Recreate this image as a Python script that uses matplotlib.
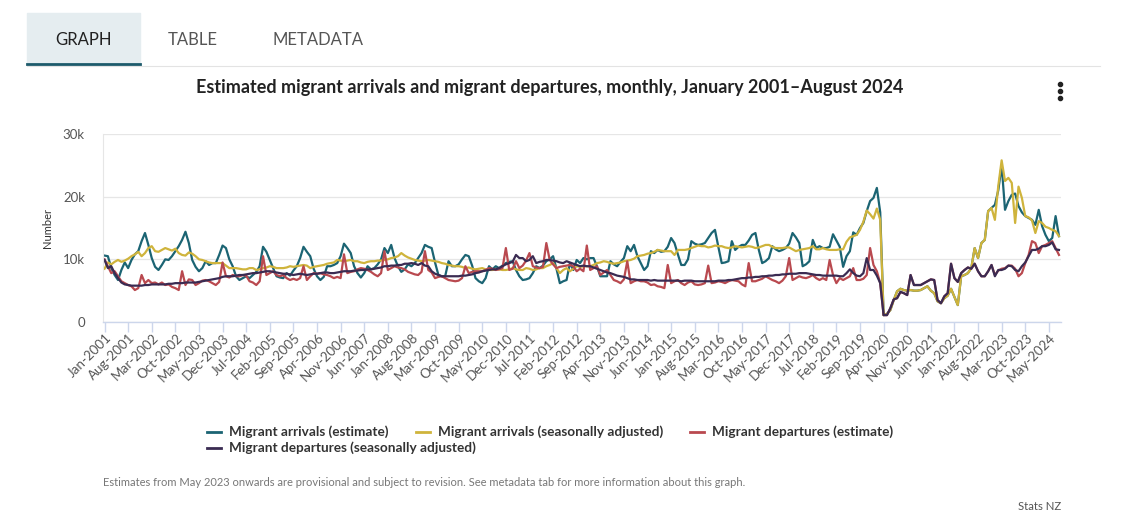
import matplotlib
matplotlib.use("Agg")
import matplotlib.pyplot as plt
import matplotlib.transforms as mtransforms
from matplotlib.lines import Line2D
from matplotlib.patches import Rectangle
import numpy as np
import pandas as pd

plt.rcParams['font.family'] = ['Lato', 'DejaVu Sans']

# monthly values, thousands, Jan 2001 - Aug 2024 (one row per year)
arrivals_est = [
    10.6, 10.5, 8.6, 7.5, 6.7, 8.3, 9.5, 8.6, 9.9, 10.8, 11.3, 12.9,
    14.2, 12.3, 10.2, 8.8, 8.3, 9.1, 10.0, 9.9, 10.5, 11.3, 12.1, 13.1,
    14.4, 12.6, 9.9, 8.8, 8.1, 8.6, 9.7, 9.1, 9.4, 9.4, 10.7, 12.2,
    11.8, 10.0, 8.9, 7.3, 6.7, 7.0, 7.3, 7.0, 7.5, 8.0, 8.9, 12.0,
    11.2, 9.9, 8.6, 7.3, 7.1, 7.0, 7.8, 7.4, 8.2, 8.9, 10.2, 12.0,
    11.2, 10.5, 8.5, 7.3, 6.7, 7.2, 8.9, 8.9, 9.1, 9.4, 10.5, 12.5,
    11.8, 11.0, 8.9, 7.8, 7.1, 7.8, 8.9, 8.4, 8.6, 9.2, 10.0, 11.8,
    11.0, 12.3, 10.2, 8.9, 8.0, 8.4, 9.2, 8.9, 9.4, 10.2, 11.0, 12.3,
    12.0, 11.8, 9.5, 7.5, 7.3, 7.3, 9.7, 8.9, 8.9, 9.2, 10.0, 10.7,
    10.5, 9.0, 7.0, 6.5, 6.2, 7.0, 8.9, 8.4, 8.9, 8.6, 9.0, 9.4,
    9.6, 9.7, 8.3, 7.3, 6.7, 6.8, 7.0, 7.8, 8.9, 8.6, 9.0, 9.7,
    10.0, 10.5, 8.5, 6.2, 6.5, 6.7, 9.4, 8.3, 9.9, 9.4, 10.2, 10.0,
    10.2, 10.2, 8.9, 7.3, 7.3, 7.3, 9.7, 9.2, 8.9, 9.6, 10.2, 12.1,
    11.3, 12.3, 10.5, 9.4, 8.3, 8.9, 11.3, 11.0, 11.5, 11.2, 11.3, 12.0,
    13.4, 12.6, 10.8, 9.1, 9.1, 10.0, 12.9, 12.5, 12.3, 12.4, 12.6, 13.4,
    14.2, 14.7, 12.0, 9.4, 9.5, 9.7, 12.9, 11.5, 12.0, 12.3, 12.3, 13.0,
    13.9, 14.2, 11.5, 9.4, 9.7, 10.2, 12.1, 11.6, 11.3, 11.5, 11.8, 12.5,
    14.2, 13.5, 12.6, 8.9, 9.2, 9.7, 13.1, 11.8, 12.1, 11.8, 11.8, 12.0,
    14.0, 13.0, 12.0, 8.8, 10.5, 11.3, 14.3, 13.9, 15.0, 15.8, 17.7, 19.3,
    19.8, 21.4, 17.5, 1.1, 1.3, 1.9, 3.5, 4.9, 5.3, 5.1, 5.0, 5.1,
    5.0, 5.0, 5.1, 5.4, 5.7, 5.0, 4.6, 3.3, 3.0, 3.8, 4.2, 5.3,
    4.0, 2.7, 7.3, 7.5, 7.8, 8.6, 11.8, 10.2, 12.6, 13.1, 17.7, 18.2,
    18.7, 21.0, 25.0, 17.9, 19.3, 20.3, 20.5, 18.5, 17.5, 16.9, 16.6, 16.3,
    15.5, 17.9, 15.3, 13.9, 12.9, 13.4, 16.9, 13.7,
]

arrivals_sa = [
    8.5, 9.5, 9.2, 9.6, 9.9, 9.6, 9.8, 10.1, 10.5, 10.8, 11.2, 10.5,
    11.0, 11.8, 12.1, 11.3, 11.2, 11.5, 11.8, 11.6, 11.4, 11.7, 11.0, 10.7,
    10.6, 11.1, 10.9, 10.5, 10.0, 9.9, 9.7, 9.5, 9.4, 9.4, 9.4, 9.4,
    9.0, 8.6, 8.6, 8.6, 8.5, 8.4, 8.4, 8.6, 8.6, 8.3, 8.4, 8.6,
    8.7, 8.9, 8.8, 8.6, 8.6, 8.6, 8.7, 8.9, 8.8, 8.9, 9.0, 9.1,
    9.0, 8.6, 8.8, 8.9, 9.0, 9.1, 9.3, 9.4, 9.5, 9.9, 9.8, 9.7,
    9.8, 9.9, 9.7, 9.7, 9.5, 9.4, 9.6, 9.7, 9.7, 9.8, 9.8, 9.9,
    10.0, 10.2, 10.3, 10.5, 11.0, 10.6, 10.3, 10.1, 9.9, 9.8, 9.7, 9.8,
    9.9, 9.8, 9.7, 9.6, 9.4, 9.3, 9.1, 9.0, 8.9, 8.9, 8.8, 8.6,
    8.7, 8.5, 8.4, 8.5, 8.6, 8.4, 8.3, 8.3, 8.4, 8.4, 8.3, 8.3,
    8.4, 8.6, 8.4, 8.3, 8.3, 8.6, 8.5, 8.3, 8.4, 8.6, 8.6, 8.9,
    9.1, 9.4, 8.6, 7.8, 8.3, 8.6, 8.1, 8.5, 8.9, 8.8, 8.9, 8.9,
    8.9, 9.1, 9.4, 9.5, 9.7, 9.6, 9.4, 9.3, 9.4, 9.5, 9.7, 9.8,
    9.9, 10.1, 10.5, 10.6, 10.7, 10.9, 11.0, 11.2, 11.5, 11.4, 11.3, 11.3,
    11.3, 10.7, 11.5, 11.5, 11.5, 11.6, 11.8, 12.0, 12.2, 12.1, 12.1, 11.9,
    12.0, 12.2, 12.1, 12.1, 11.9, 11.8, 11.9, 12.1, 12.0, 11.9, 12.0, 12.1,
    12.0, 11.8, 11.9, 12.1, 12.3, 12.3, 12.0, 11.8, 11.8, 11.8, 11.9, 11.9,
    11.6, 11.3, 11.5, 11.6, 11.7, 11.8, 12.1, 11.6, 11.6, 11.8, 11.6, 11.5,
    11.5, 11.5, 11.6, 11.6, 12.8, 13.5, 13.7, 13.9, 14.7, 16.0, 17.8, 17.2,
    16.5, 18.1, 16.3, 1.1, 1.3, 1.9, 3.5, 4.9, 5.3, 5.1, 5.0, 5.1,
    5.0, 5.0, 5.1, 5.4, 5.7, 5.0, 4.6, 3.3, 3.0, 3.8, 4.2, 5.3,
    4.0, 2.7, 7.3, 7.5, 7.8, 8.6, 11.8, 10.2, 12.6, 13.1, 17.7, 18.2,
    16.3, 21.7, 25.8, 22.5, 23.0, 22.2, 15.8, 21.6, 19.8, 16.9, 16.7, 16.2,
    14.2, 16.1, 15.8, 15.2, 15.0, 14.7, 14.5, 13.7,
]

departures_est = [
    10.0, 8.9, 7.8, 8.1, 7.3, 6.5, 6.2, 5.9, 5.7, 5.1, 5.4, 7.5,
    6.2, 6.7, 6.2, 6.3, 6.0, 6.3, 5.9, 6.0, 5.6, 5.4, 5.1, 8.1,
    5.9, 6.8, 6.7, 5.9, 6.2, 6.6, 6.7, 6.5, 6.2, 5.9, 6.4, 9.5,
    7.3, 7.1, 7.5, 7.3, 7.3, 7.5, 7.4, 6.5, 6.3, 5.9, 6.5, 10.5,
    7.5, 7.8, 8.1, 7.5, 7.3, 7.5, 7.0, 6.7, 6.9, 6.7, 7.0, 8.9,
    6.7, 7.3, 7.8, 7.7, 7.8, 7.6, 7.5, 7.3, 7.0, 7.2, 7.0, 10.8,
    7.8, 8.0, 8.1, 8.4, 8.6, 8.5, 8.3, 8.0, 7.6, 7.3, 7.8, 11.3,
    8.3, 8.6, 8.9, 8.7, 8.6, 8.4, 8.0, 7.8, 7.6, 7.5, 8.0, 11.3,
    8.3, 7.9, 7.0, 7.2, 7.3, 7.0, 6.7, 6.6, 6.5, 6.6, 7.0, 8.9,
    7.8, 8.0, 8.1, 8.1, 8.1, 8.3, 8.6, 8.5, 8.3, 8.4, 8.6, 11.8,
    8.3, 8.5, 9.7, 8.6, 9.0, 9.8, 11.0, 8.9, 8.7, 8.6, 8.8, 12.6,
    9.9, 9.2, 8.6, 8.8, 8.9, 9.0, 9.1, 8.9, 8.1, 8.5, 8.1, 12.2,
    8.3, 8.6, 8.9, 7.5, 7.9, 8.3, 7.5, 6.7, 6.5, 6.2, 6.8, 9.7,
    6.2, 6.5, 6.7, 6.5, 6.5, 6.3, 5.9, 6.0, 5.7, 5.6, 5.4, 9.1,
    6.2, 6.5, 6.7, 6.2, 5.9, 6.3, 6.5, 6.0, 5.9, 6.0, 6.2, 9.0,
    6.2, 6.3, 6.5, 6.4, 6.2, 6.5, 6.7, 6.6, 6.5, 6.0, 5.7, 9.4,
    6.5, 6.5, 6.7, 6.9, 7.3, 7.0, 6.7, 6.5, 6.2, 6.6, 7.3, 10.2,
    6.7, 7.0, 7.3, 7.1, 7.0, 7.2, 7.5, 7.0, 6.7, 7.0, 6.7, 9.9,
    7.5, 6.2, 7.0, 6.7, 7.0, 7.3, 8.6, 6.7, 6.7, 6.9, 7.5, 11.8,
    9.1, 8.1, 6.2, 1.1, 1.1, 2.2, 3.6, 3.8, 4.8, 4.6, 4.3, 7.5,
    5.9, 5.9, 5.9, 6.2, 6.5, 6.8, 6.7, 3.5, 3.0, 4.1, 4.6, 9.3,
    7.0, 6.4, 7.8, 8.3, 8.7, 8.5, 9.3, 8.1, 7.3, 7.3, 8.1, 9.1,
    7.5, 8.2, 8.5, 8.6, 9.0, 9.0, 8.5, 7.3, 7.8, 9.4, 10.7, 12.9,
    12.6, 11.0, 12.1, 12.3, 12.6, 12.9, 11.8, 10.7,
]

departures_sa = [
    9.9, 8.6, 8.9, 7.8, 7.0, 6.3, 6.0, 5.9, 5.8, 5.8, 5.8, 5.8,
    5.9, 5.9, 6.0, 6.0, 6.0, 6.0, 6.0, 6.1, 6.1, 6.2, 6.2, 6.2,
    6.3, 6.3, 6.3, 6.3, 6.4, 6.5, 6.6, 6.7, 6.8, 6.9, 7.0, 7.2,
    7.3, 7.3, 7.3, 7.4, 7.5, 7.5, 7.6, 7.7, 7.8, 7.8, 7.9, 8.0,
    8.1, 8.1, 8.0, 7.9, 7.8, 7.7, 7.7, 7.6, 7.5, 7.6, 7.7, 7.6,
    7.5, 7.6, 7.7, 7.7, 7.8, 7.9, 7.9, 7.8, 7.8, 7.9, 8.0, 8.1,
    8.1, 8.1, 8.2, 8.2, 8.3, 8.3, 8.4, 8.4, 8.5, 8.6, 8.7, 8.9,
    8.9, 9.0, 9.0, 9.1, 9.1, 9.3, 9.3, 9.4, 9.3, 9.1, 9.4, 9.0,
    8.9, 8.1, 7.7, 7.5, 7.3, 7.3, 7.3, 7.3, 7.3, 7.3, 7.4, 7.4,
    7.5, 7.6, 7.8, 7.9, 8.1, 8.2, 8.3, 8.4, 8.4, 8.6, 8.9, 9.2,
    9.4, 9.6, 10.7, 10.2, 10.2, 9.7, 9.9, 10.5, 9.4, 9.6, 9.7, 9.9,
    9.9, 9.8, 9.7, 9.5, 9.4, 9.7, 9.5, 9.3, 9.1, 8.9, 9.0, 8.9,
    8.9, 8.7, 8.5, 8.3, 8.1, 7.9, 7.8, 7.6, 7.4, 7.3, 7.2, 7.0,
    6.8, 6.8, 6.7, 6.7, 6.7, 6.7, 6.6, 6.7, 6.6, 6.6, 6.6, 6.6,
    6.6, 6.6, 6.6, 6.5, 6.6, 6.6, 6.6, 6.5, 6.5, 6.5, 6.5, 6.5,
    6.5, 6.5, 6.6, 6.6, 6.6, 6.7, 6.7, 6.8, 6.9, 7.0, 7.0, 7.1,
    7.1, 7.2, 7.2, 7.3, 7.3, 7.4, 7.4, 7.5, 7.5, 7.6, 7.6, 7.7,
    7.7, 7.7, 7.8, 7.8, 7.8, 7.7, 7.6, 7.5, 7.5, 7.4, 7.4, 7.4,
    7.4, 7.4, 7.3, 7.3, 7.8, 8.4, 7.8, 7.4, 7.3, 7.8, 10.2, 8.3,
    8.3, 7.4, 6.2, 1.1, 1.1, 2.2, 3.6, 3.8, 4.8, 4.6, 4.3, 7.5,
    5.9, 5.9, 5.9, 6.2, 6.5, 6.8, 6.7, 3.5, 3.0, 4.1, 4.6, 9.3,
    7.0, 6.4, 7.8, 8.3, 8.7, 8.5, 9.3, 8.1, 7.3, 7.3, 8.1, 9.1,
    7.3, 8.3, 8.3, 8.5, 9.0, 8.9, 8.3, 8.1, 8.9, 9.5, 10.5, 11.5,
    11.5, 11.7, 12.1, 12.1, 12.3, 12.7, 11.6, 11.5,
]

series_names = [
    "Migrant arrivals (estimate)",
    "Migrant arrivals (seasonally adjusted)",
    "Migrant departures (estimate)",
    "Migrant departures (seasonally adjusted)",
]
series_colors = ["#1b6473", "#cfb43c", "#b9494f", "#3a2b52"]

months = pd.date_range("2001-01-01", periods=len(arrivals_est), freq="MS")
month_labels = months.strftime("%b-%Y")
x = np.arange(len(months))

W, H = 1122, 525
def fx(px):
    return px / W
def fy(py):
    return 1 - py / H

fig = plt.figure(figsize=(W / 100, H / 100), dpi=100)
ax = fig.add_axes([fx(103), fy(322), (1061 - 103) / W, (322 - 134) / H])

all_series = [arrivals_est, arrivals_sa, departures_est, departures_sa]
for vals, name, col in zip(all_series, series_names, series_colors):
    ax.plot(x, vals, color=col, lw=1.6, label=name, solid_joinstyle="round")

ax.set_xlim(-0.45, 283.6)
ax.set_ylim(0, 30)
ax.set_yticks([0, 10, 20, 30])
ax.set_yticklabels(["0", "10k", "20k", "30k"])
ax.grid(axis="y", color="#e6e6e6", lw=0.9)
ax.set_axisbelow(True)
for s in ["top", "right"]:
    ax.spines[s].set_visible(False)
ax.spines["left"].set_color("#e6e6e6")
ax.spines["bottom"].set_color("#ccd6eb")
ax.spines["bottom"].set_linewidth(1.0)
ax.tick_params(axis="y", length=0, pad=13, labelsize=9.5, labelcolor="#555555")

ticks = x[::7]
ax.set_xticks(ticks)
ax.set_xticklabels(month_labels[::7])
ax.tick_params(axis="x", length=7, width=1, color="#ccd6eb", pad=3,
               labelsize=9.6, labelcolor="#555555")
offset = mtransforms.ScaledTranslation(5 / 100, 0, fig.dpi_scale_trans)
for lbl in ax.get_xticklabels():
    lbl.set_rotation(45)
    lbl.set_ha("right")
    lbl.set_va("center")
    lbl.set_rotation_mode("anchor")
    lbl.set_transform(lbl.get_transform() + offset)

fig.text(fx(48), fy(228), "Number", rotation=90, ha="center", va="center",
         fontsize=8, color="#333333")

# tabs
fig.patches.append(Rectangle((fx(27), fy(64)), 113 / W, 51 / H,
                             transform=fig.transFigure, color="#e5edf0", zorder=0))
fig.add_artist(Line2D([fx(27), fx(1100)], [fy(65.5), fy(65.5)], color="#e3e3e3", lw=0.8))
fig.add_artist(Line2D([fx(27), fx(140)], [fy(64), fy(64)], color="#1d5a6b", lw=2))
fig.text(fx(84), fy(40), "GRAPH", ha="center", va="center", fontsize=12, color="#222222")
fig.text(fx(193), fy(40), "TABLE", ha="center", va="center", fontsize=12, color="#555555")
fig.text(fx(318), fy(40), "METADATA", ha="center", va="center", fontsize=12, color="#555555")

fig.text(fx(550), fy(87), "Estimated migrant arrivals and migrant departures, monthly, January 2001\u2013August 2024",
         ha="center", va="center", fontsize=13, fontweight="bold", color="#222222")

fig.add_artist(Line2D([fx(1060)] * 3, [fy(84), fy(91), fy(98)], ls="none",
                      marker="o", ms=3.0, color="#222222"))

# legend
legend_pos = [(207, 432), (416, 432), (690, 432), (207, 448)]
for (lx, ly), name, col in zip(legend_pos, series_names, series_colors):
    fig.add_artist(Line2D([fx(lx), fx(lx + 14)], [fy(ly), fy(ly)], color=col, lw=2))
    fig.text(fx(lx + 22), fy(ly), name, ha="left", va="center", fontsize=9.8,
             fontweight="bold", color="#333333")

fig.text(fx(103), fy(482), "Estimates from May 2023 onwards are provisional and subject to revision. "
         "See metadata tab for more information about this graph.",
         ha="left", va="center", fontsize=8, color="#777777")
fig.text(fx(1061), fy(507), "Stats NZ", ha="right", va="center", fontsize=8.2, color="#555555")

fig.savefig("out.png", dpi=100)
